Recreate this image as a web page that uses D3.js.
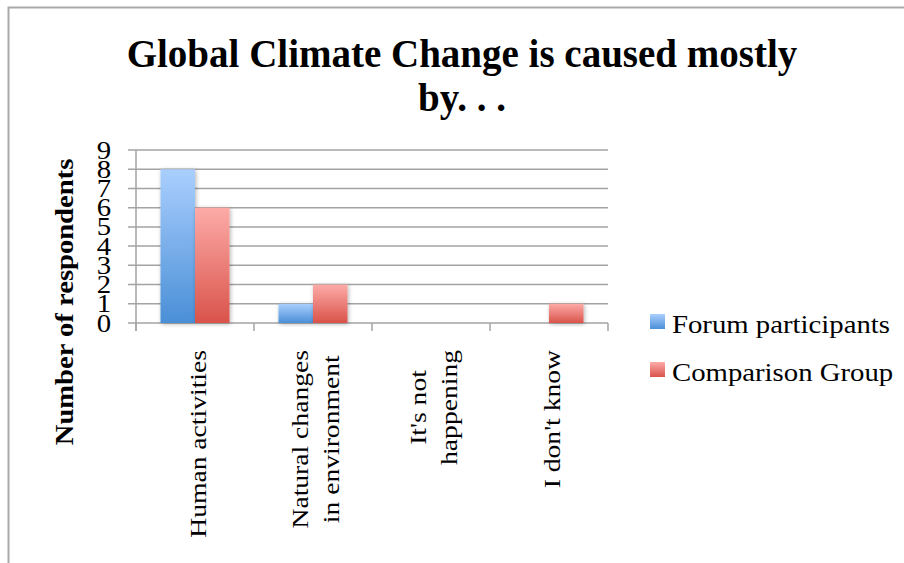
<!DOCTYPE html>
<html>
<head>
<meta charset="utf-8">
<script src="https://cdn.jsdelivr.net/npm/d3@7"></script>
<style>
  html, body { margin: 0; padding: 0; background: #fff; }
  svg { display: block; }
</style>
</head>
<body>
<svg id="chart" width="904" height="563"></svg>
<script>
// Survey answers: "Global Climate Change is caused mostly by..."
const categories = [
  ["Human activities"],
  ["Natural changes", "in environment"],
  ["It's not", "happening"],
  ["I don't know"]
];
const seriesNames = ["Forum participants", "Comparison Group"];
const forumValues = [8, 1, 0, 0];
const comparisonValues = [6, 2, 0, 1];
const yTicks = [0, 1, 2, 3, 4, 5, 6, 7, 8, 9];

const serif = "'Liberation Serif', 'Times New Roman', serif";
const stretch = 1.15; // widen the Times-like face a little

const svg = d3.select("#chart");
const defs = svg.append("defs");

// Vertical gradients for the two series
const gradients = [
  { id: "gBlue", top: "#aacffe", bottom: "#4a8fd7" },
  { id: "gRed", top: "#fdaba8", bottom: "#d9534a" }
];
gradients.forEach(g => {
  const lg = defs.append("linearGradient").attr("id", g.id)
    .attr("x1", 0).attr("y1", 0).attr("x2", 0).attr("y2", 1);
  lg.append("stop").attr("offset", "0%").attr("stop-color", g.top);
  lg.append("stop").attr("offset", "100%").attr("stop-color", g.bottom);
});
const shadow = defs.append("filter").attr("id", "barShadow")
  .attr("x", "-20%").attr("y", "-20%").attr("width", "140%").attr("height", "140%");
shadow.append("feDropShadow").attr("dx", 1).attr("dy", 1)
  .attr("stdDeviation", 2).attr("flood-color", "#000").attr("flood-opacity", 0.3);

// Outer frame
svg.append("path")
  .attr("d", "M8.5,563 V7.5 H904")
  .attr("fill", "none").attr("stroke", "#a9a9a9").attr("stroke-width", 2);

// Title
const title = svg.append("text")
  .attr("text-anchor", "middle")
  .attr("font-family", serif).attr("font-weight", "bold").attr("font-size", 39)
  .attr("fill", "#000");
title.append("tspan").attr("x", 462).attr("y", 67).text("Global Climate Change is caused mostly");
title.append("tspan").attr("x", 462).attr("y", 111).text("by. . .");

// Scales
const plot = { left: 136, right: 608, top: 150, bottom: 323 };
const x0 = d3.scaleBand().domain(d3.range(categories.length))
  .range([plot.left, plot.right]).padding(0);
const x1 = d3.scaleBand().domain(d3.range(seriesNames.length))
  .range([0, x0.bandwidth()]).paddingInner(0).paddingOuter(0.71);
const y = d3.scaleLinear().domain([0, 9]).range([plot.bottom, plot.top]);

// Horizontal gridlines (they also form the y tick marks)
svg.append("g").selectAll("line").data(yTicks).join("line")
  .attr("x1", plot.left - 8).attr("x2", plot.right)
  .attr("y1", d => y(d)).attr("y2", d => y(d))
  .attr("stroke", "#a3a3a3").attr("stroke-width", 1.5);

// Y axis line
svg.append("line")
  .attr("x1", plot.left).attr("x2", plot.left)
  .attr("y1", y(9)).attr("y2", plot.bottom + 8)
  .attr("stroke", "#a3a3a3").attr("stroke-width", 1.5);

// Category tick marks below the baseline
const boundaries = d3.range(categories.length + 1).map(i =>
  i < categories.length ? x0(i) : x0(i - 1) + x0.bandwidth());
svg.append("g").selectAll("line").data(boundaries).join("line")
  .attr("x1", d => d).attr("x2", d => d)
  .attr("y1", plot.bottom).attr("y2", plot.bottom + 8)
  .attr("stroke", "#a3a3a3").attr("stroke-width", 1.5);

// Y tick labels
svg.append("g").selectAll("text").data(yTicks).join("text")
  .attr("transform", d => `translate(111,${y(d) + 8.5}) scale(${stretch},1)`)
  .attr("text-anchor", "end")
  .attr("font-family", serif).attr("font-size", 25).attr("fill", "#000")
  .text(d => d);

// Bars
const series = [forumValues, comparisonValues];
const barsG = svg.append("g");
series.forEach((vals, s) => {
  barsG.append("g").selectAll("rect")
    .data(vals.map((v, i) => ({ v, i })).filter(d => d.v > 0))
    .join("rect")
    .attr("x", d => x0(d.i) + x1(s))
    .attr("width", x1.bandwidth())
    .attr("y", d => y(d.v))
    .attr("height", d => y(0) - y(d.v))
    .attr("fill", `url(#${gradients[s].id})`)
    .attr("filter", "url(#barShadow)");
});

// Category labels, rotated, multi-line blocks centred on each band
const labelTop = 350;
const lineGap = 31;
categories.forEach((lines, i) => {
  const cx = x0(i) + x0.bandwidth() / 2;
  const g = svg.append("g");
  const texts = lines.map((line, k) => {
    const bx = cx + 10.5 + (k - (lines.length - 1) / 2) * lineGap;
    return g.append("text")
      .attr("font-family", serif).attr("font-size", 24).attr("fill", "#000")
      .attr("text-anchor", "middle")
      .attr("data-bx", bx)
      .text(line);
  });
  const maxLen = d3.max(texts, t => t.node().getComputedTextLength()) * stretch;
  const cy = labelTop + maxLen / 2;
  texts.forEach(t => {
    t.attr("transform", `translate(${t.attr("data-bx")},${cy}) rotate(-90) scale(${stretch},1)`);
  });
});

// Y axis title
svg.append("text")
  .attr("transform", `translate(73,302) rotate(-90) scale(1.1,1)`)
  .attr("text-anchor", "middle")
  .attr("font-family", serif).attr("font-weight", "bold").attr("font-size", 26)
  .attr("fill", "#000")
  .text("Number of respondents");

// Legend
const legend = svg.append("g");
seriesNames.forEach((name, s) => {
  const ly = 314 + s * 48;
  legend.append("rect")
    .attr("x", 650).attr("y", ly).attr("width", 15).attr("height", 15)
    .attr("fill", `url(#${gradients[s].id})`);
  legend.append("text")
    .attr("transform", `translate(672,${ly + 19}) scale(${stretch},1)`)
    .attr("font-family", serif).attr("font-size", 25).attr("fill", "#000")
    .text(name);
});
</script>
</body>
</html>
